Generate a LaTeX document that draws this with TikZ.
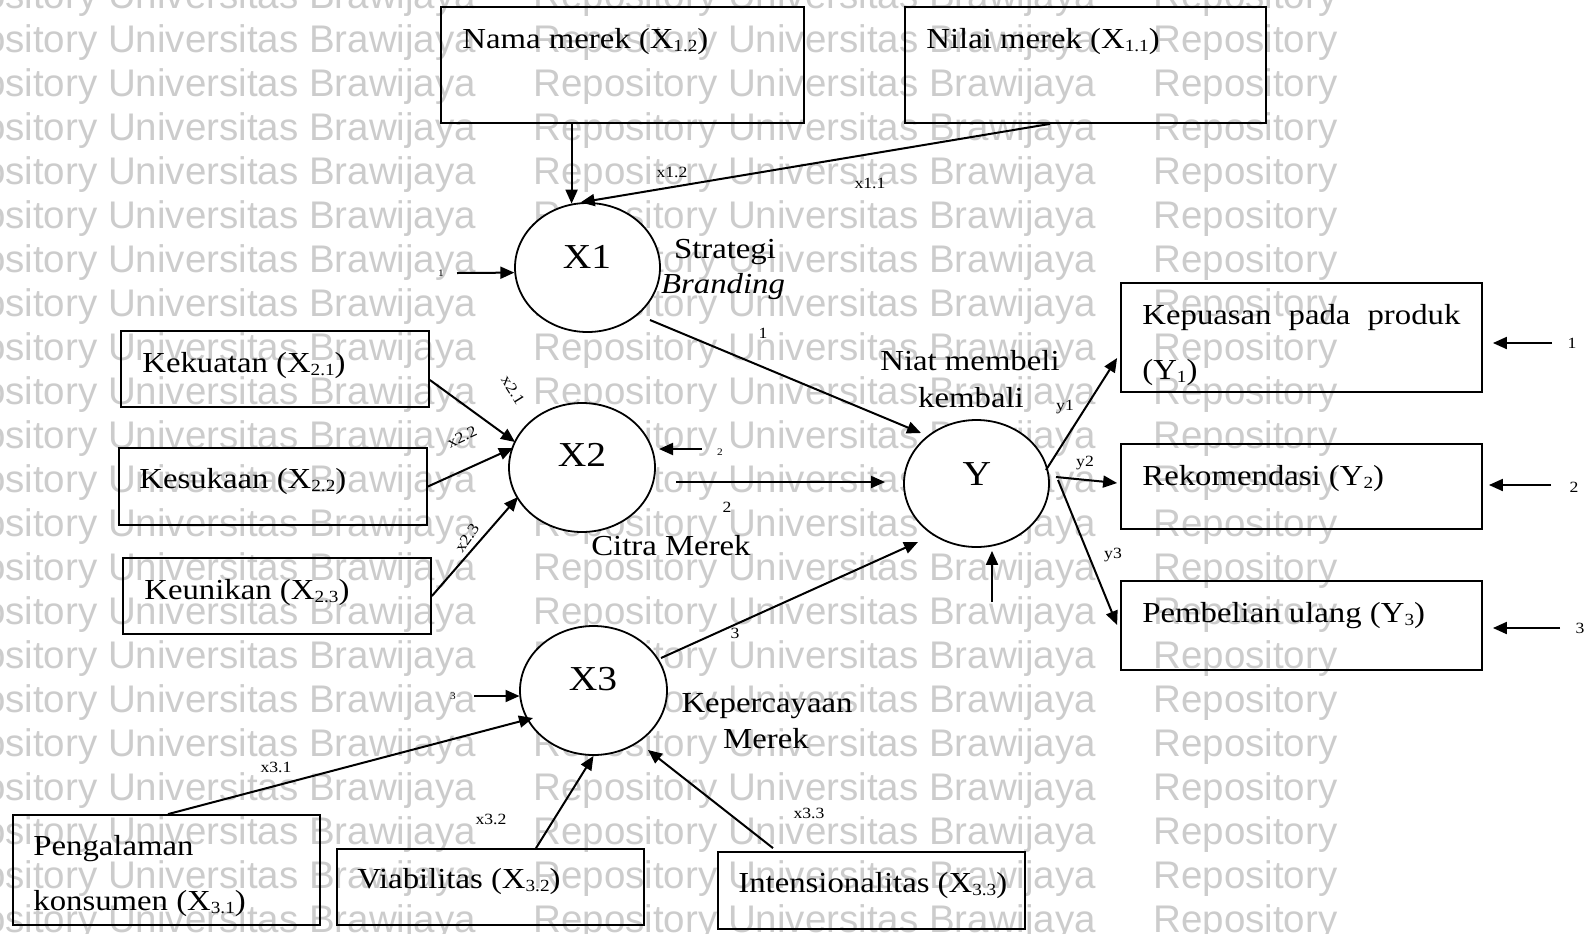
\documentclass[tikz,border=0pt]{standalone}
\usepackage{fontspec}
\setmainfont{Liberation Serif}[FakeStretch=1.13]
\newfontfamily\wmfont{Liberation Sans}
\usetikzlibrary{shapes.geometric,arrows.meta,calc}
\definecolor{wmgray}{RGB}{204,204,204}
% lowered, smaller index after a variable name, e.g. X_{1.2}
\newcommand\subx[1]{\raisebox{-1.5pt}{\fontsize{8.5}{8.5}\selectfont #1}}

\begin{document}
\begin{tikzpicture}[x=0.5pt,y=-0.5pt,
  box/.style={draw, line width=0.9pt, rectangle, inner sep=0pt},
  latent/.style={draw, fill=white, line width=0.9pt, ellipse, inner sep=0pt},
  txt/.style={inner sep=0pt, anchor=base west, font=\fontsize{14.5}{17}\selectfont},
  ctxt/.style={inner sep=0pt, anchor=base, font=\fontsize{14.5}{17}\selectfont},
  bigtxt/.style={inner sep=0pt, font=\fontsize{17.5}{20}\selectfont},
  lbl/.style={inner sep=0pt, font=\fontsize{7.8}{8}\selectfont},
  midlbl/.style={inner sep=0pt, font=\fontsize{7.8}{8}\selectfont},
  tinylbl/.style={inner sep=0pt, font=\fontsize{5}{6}\selectfont},
  arr/.style={line width=1pt, -{Triangle[length=7pt,width=6pt]}},
  wm/.style={inner sep=0pt, anchor=base west, text=wmgray, font=\wmfont\fontsize{19.25}{20}\selectfont}
]
\useasboundingbox (0,0) rectangle (1591,933);
\clip (0,0) rectangle (1591,933);

% background lettering
\foreach \k in {0,...,21}{
  \pgfmathsetmacro\yy{8+44*\k}
  \node[wm] (wma\k) at (-87,\yy) {Repository Universitas Brawijaya};
  \node[wm] (wmb\k) at (533,\yy) {Repository Universitas Brawijaya};
  \node[wm] (wmc\k) at (1153,\yy) {Repository};
}

% indicator boxes
\node[box, minimum width=181.5pt, minimum height=58pt] (nama) at (622.5,65) {};
\node[box, minimum width=180.5pt, minimum height=58pt] (nilai) at (1085.5,65) {};
\node[box, minimum width=154pt, minimum height=38pt] (kek) at (275,369) {};
\node[box, minimum width=154pt, minimum height=38.5pt] (kes) at (273,486.5) {};
\node[box, minimum width=154pt, minimum height=38pt] (keu) at (277,596) {};
\node[box, minimum width=180.5pt, minimum height=54.5pt] (kep) at (1301.5,337.5) {};
\node[box, minimum width=180.5pt, minimum height=42.5pt] (rek) at (1301.5,486.5) {};
\node[box, minimum width=180.5pt, minimum height=44.5pt] (pem) at (1301.5,625.5) {};
\node[box, minimum width=153.5pt, minimum height=55pt] (peng) at (166.5,870) {};
\node[box, minimum width=153.5pt, minimum height=38pt] (via) at (490.5,887) {};
\node[box, minimum width=153.5pt, minimum height=38.5pt] (int) at (871.5,890.5) {};

% box texts
\node[txt] (tnama) at (462,48) {Nama merek (X\subx{1.2})};
\node[txt] (tnilai) at (926,48) {Nilai merek (X\subx{1.1})};
\node[txt] (tkek) at (142,372) {Kekuatan (X\subx{2.1})};
\node[txt] (tkes) at (139,488) {Kesukaan (X\subx{2.2})};
\node[txt] (tkeu) at (144,599) {Keunikan (X\subx{2.3})};
\node[txt] (tkep) at (1142,324) {\makebox[159pt][s]{Kepuasan pada produk}};
\node[txt] (tkep2) at (1142,379) {(Y\subx{1})};
\node[txt] (trek) at (1142,485) {Rekomendasi (Y\subx{2})};
\node[txt] (tpem) at (1142,622) {Pembelian ulang (Y\subx{3})};
\node[txt] (tpeng) at (33,855) {Pengalaman};
\node[txt] (tpeng2) at (33,910) {konsumen (X\subx{3.1})};
\node[txt] (tvia) at (357,888) {Viabilitas (X\subx{3.2})};
\node[txt] (tint) at (738,892) {Intensionalitas (X\subx{3.3})};

% latent variables
\node[latent, minimum width=72.5pt, minimum height=64.5pt] (x1) at (587.5,267.5) {};
\node[latent, minimum width=73pt, minimum height=64.5pt] (x2) at (582,467.5) {};
\node[latent, minimum width=73.5pt, minimum height=64.5pt] (x3) at (593.5,690.5) {};
\node[latent, minimum width=72.5pt, minimum height=63.5pt] (y) at (976.5,483.5) {};
\node[bigtxt] (lx1) at (587,257) {X1};
\node[bigtxt] (lx2) at (582,455) {X2};
\node[bigtxt] (lx3) at (593,679) {X3};
\node[bigtxt] (ly) at (977,474) {Y};

% construct names
\node[ctxt] (nstrat) at (725,258) {Strategi};
\node[ctxt] (nbrand) at (723,293) {\itshape Branding};
\node[ctxt] (ncitra) at (671,555) {Citra Merek};
\node[ctxt] (nniat) at (970,370) {Niat membeli};
\node[ctxt] (nkemb) at (971,407) {kembali};
\node[ctxt] (nkep) at (767,712) {Kepercayaan};
\node[ctxt] (nmerek) at (766,748) {Merek};

% path labels
\node[lbl] (lx12) at (672,172) {x1.2};
\node[lbl] (lx11) at (870,183) {x1.1};
\node[lbl] (lg1) at (763,333) {1};
\node[lbl, rotate=-58] (lx21) at (513,390) {x2.1};
\node[lbl, rotate=25] (lx22) at (462,437) {x2.2};
\node[lbl, rotate=55] (lx23) at (467,538) {x2.3};
\node[midlbl] (lg2) at (727,507) {2};
\node[lbl] (lg3) at (735,633) {3};
\node[lbl] (lx31) at (276,767) {x3.1};
\node[lbl] (lx32) at (491,819) {x3.2};
\node[lbl] (lx33) at (809,813) {x3.3};
\node[midlbl] (ly1) at (1065,407) {y1};
\node[midlbl] (ly2) at (1085,463) {y2};
\node[midlbl] (ly3) at (1113,555) {y3};

% disturbance labels
\node[tinylbl] (z1) at (441,273) {1};
\node[tinylbl] (z2) at (720,452) {2};
\node[tinylbl] (z3) at (453,696) {3};
\node[midlbl] (e1) at (1572,343) {1};
\node[midlbl] (e2) at (1574,487) {2};
\node[midlbl] (e3) at (1580,628) {3};
\coordinate (zy) at (992,602);

% strategi branding indicators
\draw[arr] (x1.104 |- nama.south) -- (x1.104);
\draw[arr] ($(nilai.south)+(-35.5,0)$) -- (x1.96);
\draw[arr] ($(z1)+(16,0)$) -- (x1.184);

% citra merek indicators
\draw[arr] ($(kek.east)+(0,11)$) -- ($(x2)+(-67,-25.5)$);
\draw[arr] (kes.east) -- ($(x2)+(-69,-19.5)$);
\draw[arr] (keu.east) -- ($(x2)+(-64,29.5)$);
\draw[arr] ($(z2)+(-18,-3)$) -- ($(x2)+(77,-18.5)$);

% kepercayaan merek indicators
\draw[arr] ($(peng.north)+(1.5,0)$) -- ($(x3)+(-60.5,27.5)$);
\draw[arr] ($(via.north)+(45.5,0)$) -- (x3.south);
\draw[arr] ($(int.north)+(-98.5,-3)$) -- ($(x3)+(54.5,59.5)$);
\draw[arr] ($(z3)+(21,0)$) -- ($(x3)+(-74,5.5)$);

% structural paths
\draw[arr] ($(x1)+(62.5,52.5)$) -- ($(y)+(-55.5,-50.5)$);
\draw[arr] ($(x2)+(94,14.5)$) -- ($(y)+(-91.5,-1.5)$);
\draw[arr] ($(x3)+(67.5,-32.5)$) -- ($(y)+(-58.5,58.5)$);
\draw[arr] (zy) -- ($(y.south)+(15.5,3)$);

% niat membeli kembali indicators
\draw[arr] ($(y)+(69.5,-13.5)$) -- ($(kep.west)+(-3,20.5)$);
\draw[arr] ($(y)+(79.5,-6.5)$) -- ($(rek.west)+(-3,-3.5)$);
\draw[arr] ($(y)+(81.5,-3.5)$) -- ($(pem.west)+(-3,-0.5)$);
\draw[arr] ($(e1)+(-20,0)$) -- ($(kep.east)+(10,5.5)$);
\draw[arr] ($(e2)+(-23,-2)$) -- ($(rek.east)+(6,-1.5)$);
\draw[arr] ($(e3)+(-20,0)$) -- ($(pem.east)+(10,2.5)$);
\end{tikzpicture}
\end{document}
